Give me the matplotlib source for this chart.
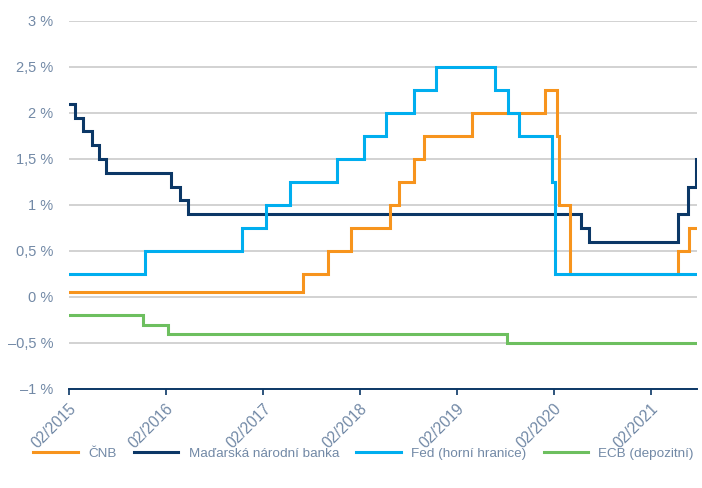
import pandas as pd
import matplotlib
matplotlib.use("Agg")
import matplotlib.pyplot as plt
import matplotlib.dates as mdates
from matplotlib.ticker import FuncFormatter

plt.rcParams.update({
    "font.family": ["Liberation Sans", "DejaVu Sans"],
    "font.size": 10,
})

# rate changes: date from which the value applies
END_DATE = "2021-07-25"

CNB_DATES = ["2015-02-01", "2017-07-03", "2017-10-04", "2017-12-29", "2018-05-24",
             "2018-06-29", "2018-08-23", "2018-09-29", "2019-03-30", "2020-01-01",
             "2020-02-13", "2020-02-20", "2020-04-03", "2021-05-16", "2021-06-26"]
CNB_RATES = [0.05, 0.25, 0.5, 0.75, 1.0, 1.25, 1.5, 1.75, 2.0, 2.25,
             1.75, 1.0, 0.25, 0.5, 0.75]

MNB_DATES = ["2015-02-01", "2015-02-24", "2015-03-25", "2015-04-28", "2015-05-25",
             "2015-06-21", "2016-02-22", "2016-03-27", "2016-04-26", "2020-05-14",
             "2020-06-13", "2021-05-16", "2021-06-19", "2021-07-21"]
MNB_RATES = [2.1, 1.95, 1.8, 1.65, 1.5, 1.35, 1.2, 1.05, 0.9, 0.75,
             0.6, 0.9, 1.2, 1.5]

FED_DATES = ["2015-02-01", "2015-11-15", "2016-11-15", "2017-02-11", "2017-05-12",
             "2017-11-08", "2018-02-17", "2018-05-10", "2018-08-23", "2018-11-15",
             "2019-06-25", "2019-08-14", "2019-09-24", "2020-01-25", "2020-02-07"]
FED_RATES = [0.25, 0.5, 0.75, 1.0, 1.25, 1.5, 1.75, 2.0, 2.25, 2.5,
             2.25, 2.0, 1.75, 1.25, 0.25]

ECB_DATES = ["2015-02-01", "2015-11-07", "2016-02-11", "2019-08-08"]
ECB_RATES = [-0.2, -0.3, -0.4, -0.5]

SERIES = [
    ("ČNB", CNB_DATES, CNB_RATES, "#f7941d", 3),
    ("Maďarská národní banka", MNB_DATES, MNB_RATES, "#0b3766", 2),
    ("Fed (horní hranice)", FED_DATES, FED_RATES, "#00aeef", 4),
    ("ECB (depozitní)", ECB_DATES, ECB_RATES, "#6dbf5f", 2),
]

TXT = "#7289a6"
AXC = "#0b3766"

fig = plt.figure(figsize=(7.02, 4.88), dpi=100)
ax = fig.add_axes([0.0981, 0.2029, 0.8949, 0.7541])

for lbl, d, v, c, z in SERIES:
    x = pd.to_datetime(d + [END_DATE])
    y = v + [v[-1]]
    ax.plot(x, y, drawstyle="steps-post", color=c, lw=2.2, label=lbl,
            zorder=z, solid_joinstyle="miter")

ax.set_xlim(pd.Timestamp("2015-02-01"), pd.Timestamp(END_DATE))
ax.set_ylim(-1, 3)
ax.set_yticks([-1, -0.5, 0, 0.5, 1, 1.5, 2, 2.5, 3])


def pct(v, pos):
    s = f"{abs(v):g}".replace(".", ",")
    return ("\u2013" if v < 0 else "") + s + " %"


ax.yaxis.set_major_formatter(FuncFormatter(pct))
ax.xaxis.set_major_locator(mdates.MonthLocator(bymonth=2))
ax.xaxis.set_major_formatter(mdates.DateFormatter("%m/%Y"))

ax.grid(axis="y", color="#c6c6c6", lw=1.1, zorder=0)
for s in ["left", "right", "top"]:
    ax.spines[s].set_visible(False)
ax.spines["bottom"].set_color(AXC)
ax.spines["bottom"].set_linewidth(1.4)
ax.spines["bottom"].set_zorder(5)
ax.tick_params(axis="y", length=0, pad=11, labelcolor=TXT, labelsize=10.5)
ax.tick_params(axis="x", length=4.5, width=1.2, color=AXC, pad=4,
               labelcolor=TXT, labelsize=11.2)
for t in ax.get_xticklabels():
    t.set_rotation(45)
    t.set_ha("right")
    t.set_va("top")
    t.set_rotation_mode("anchor")

handles, labels = ax.get_legend_handles_labels()
fig.legend(handles, labels, loc="center", bbox_to_anchor=(0.518, 0.071), ncol=4,
           frameon=False, handlelength=3.3, handletextpad=0.75, columnspacing=1.3,
           fontsize=9.7, labelcolor=TXT)

fig.savefig("out.png", dpi=100)
